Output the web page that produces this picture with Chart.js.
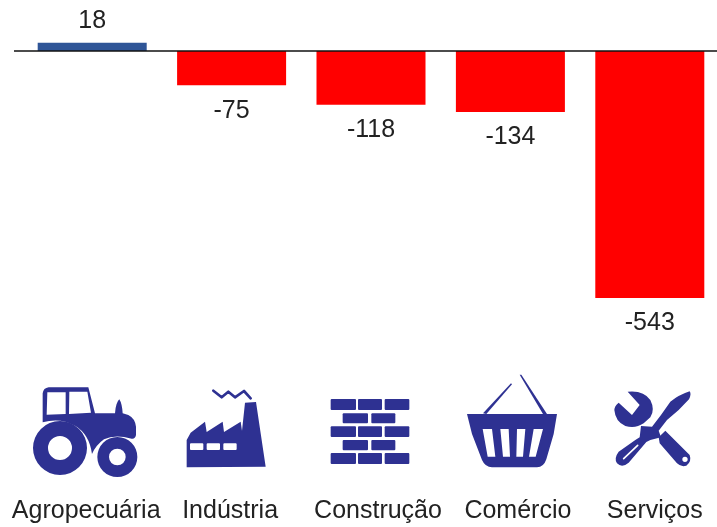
<!DOCTYPE html>
<html lang="pt">
<head>
<meta charset="utf-8">
<title>Saldo por setor</title>
<script src="https://cdn.jsdelivr.net/npm/chart.js@4"></script>
<style>
  html, body { margin: 0; padding: 0; background: #fff; overflow: hidden; }
  #wrap { width: 717px; height: 527px; overflow: hidden; }
  canvas { display: block; }
</style>
</head>
<body>
<div id="wrap"><canvas id="myChart" width="725" height="527"></canvas></div>
<script>
const labelSET = ['Agropecuária', 'Indústria', 'Construção', 'Comércio', 'Serviços'];
const valueSET = [18, -75, -118, -134, -543];

const BLUE = '#2F5597';
const RED = '#FF0000';
const NAVY = '#2E3192';
const TEXT = '#222222';
const FONT = '25px "Liberation Sans", Arial, sans-serif';

// the sector names do not sit exactly under the bars in the original
const labelShift = [-6, -1.5, 7, 7.5, 5];

//------------------------------Icons, traced in 3x crop coordinates-----------------

function polygon(pts) {
    return 'M' + pts.map(p => p.join(' ')).join('L') + 'Z';
}

function circle(cx, cy, r) {
    return `M${cx - r} ${cy}a${r} ${r} 0 1 0 ${2 * r} 0a${r} ${r} 0 1 0 ${-2 * r} 0Z`;
}

function roundRect(x, y, w, h, r) {
    return `M${x + r} ${y}h${w - 2 * r}q${r} 0 ${r} ${r}v${h - 2 * r}q0 ${r} ${-r} ${r}h${-(w - 2 * r)}q${-r} 0 ${-r} ${-r}v${-(h - 2 * r)}q0 ${-r} ${r} ${-r}Z`;
}

function drawTractor(ctx) {
    ctx.fillStyle = NAVY;
    const body = 'M128 187L128 100Q130 84 146 82L265 82L285 160L345 160Q347 128 358 118Q366 130 368 160L385 165Q405 175 408 200L408 225Q405 238 395 236Q345 222 312 238Q288 255 276 282Q268 222 225 197Q180 172 128 187Z';
    ctx.fill(new Path2D(body + polygon([[142, 97], [197, 97], [197, 162], [140, 164]]) + polygon([[208, 95], [262, 95], [273, 158], [207, 162]])), 'evenodd');
    ctx.fill(new Path2D(circle(180, 264, 81) + circle(180, 264, 36)), 'evenodd');
    ctx.fill(new Path2D(circle(352, 291, 60) + circle(352, 291, 25)), 'evenodd');
}

function drawFactory(ctx) {
    ctx.fillStyle = NAVY;
    const outline = polygon([[560, 322], [560, 240], [572, 218], [615, 185], [620, 216], [668, 185], [672, 216], [722, 185], [726, 212], [735, 128], [768, 126], [797, 320]]);
    ctx.fill(new Path2D(outline + roundRect(570, 250, 40, 20, 3) + roundRect(620, 250, 40, 20, 3) + roundRect(670, 250, 40, 20, 3)), 'evenodd');
    ctx.strokeStyle = NAVY;
    ctx.lineWidth = 8;
    ctx.lineJoin = 'round';
    ctx.lineCap = 'round';
    ctx.stroke(new Path2D('M640 92L665 112L685 95L705 112L732 93L752 115'));
}

function drawBricks(ctx) {
    ctx.fillStyle = NAVY;
    const rows = [
        [117, 33, [[-79, -3], [3, 75], [83, 157]]],
        [160, 30, [[-43, 33], [43, 115]]],
        [199, 32, [[-79, -3], [3, 75], [83, 157]]],
        [240, 31, [[-43, 33], [43, 115]]],
        [279, 33, [[-79, -3], [3, 75], [83, 157]]]
    ];
    rows.forEach(([y, h, bricks]) => {
        bricks.forEach(([x0, x1]) => ctx.fill(new Path2D(roundRect(x0, y, x1 - x0, h, 3))));
    });
}

function drawBasket(ctx) {
    ctx.fillStyle = NAVY;
    const body = 'M330 162L600 162L590 222L568 298Q560 322 540 322L405 322Q385 322 375 300L345 222Z';
    const holes = polygon([[377, 207], [405, 207], [415, 290], [392, 290]])
        + polygon([[430, 207], [455, 207], [459, 290], [438, 290]])
        + polygon([[480, 207], [505, 207], [498, 290], [478, 290]])
        + polygon([[530, 207], [558, 207], [536, 290], [516, 290]]);
    ctx.fill(new Path2D(body + holes), 'evenodd');
    ctx.fill(new Path2D(polygon([[378, 160], [462, 70], [465, 73], [388, 162]])));
    ctx.fill(new Path2D(polygon([[488, 44], [493, 44], [570, 162], [558, 162]])));
}

function drawTools(ctx) {
    ctx.fillStyle = NAVY;
    // wrench
    ctx.fill(new Path2D('M785 128L825 165L848 135L812 95Q860 90 880 120Q895 150 880 172L860 190Q835 207 805 198Q775 185 772 150Q772 138 785 128Z'));
    ctx.fill(new Path2D('M925 212L998 285Q1005 305 988 317Q972 322 960 310L908 250L905 232Z' + circle(984, 298, 8)), 'evenodd');
    // screwdriver
    ctx.fill(new Path2D('M998 94Q1004 102 996 118L965 150L930 180L905 212L912 232L880 240L868 246L815 308Q795 325 780 310Q770 295 785 275L835 240L848 232L852 198L885 200L912 165L940 125Q965 105 998 94Z'));
    ctx.strokeStyle = '#fff';
    ctx.lineWidth = 5;
    ctx.lineCap = 'round';
    ctx.stroke(new Path2D('M800 296L842 256'));
}

// icon painter and the page position of its crop origin
const icons = [
    [drawTractor, 0, 360],
    [drawFactory, 0, 360],
    [drawBricks, 357, 360],
    [drawBasket, 357, 360],
    [drawTools, 357, 360]
];

//------------------------------Plugin, zero line, value labels, sectors-------------

const decorSET = {
    id: 'decorSET',
    afterDatasetsDraw(chart) {
        const ctx = chart.ctx;
        const x = chart.scales.x;
        const y = chart.scales.y;
        const zero = y.getPixelForValue(0);

        ctx.save();
        ctx.strokeStyle = '#111';
        ctx.lineWidth = 1.4;
        ctx.beginPath();
        ctx.moveTo(14, zero);
        ctx.lineTo(717, zero);
        ctx.stroke();

        ctx.font = FONT;
        ctx.fillStyle = TEXT;
        ctx.textAlign = 'center';
        ctx.textBaseline = 'middle';
        chart.getDatasetMeta(0).data.forEach((bar, i) => {
            const v = valueSET[i];
            ctx.fillText(String(v), bar.x, bar.y + (v < 0 ? 25.5 : -22));
        });

        labelSET.forEach((name, i) => {
            ctx.fillText(name, x.getPixelForValue(i) + labelShift[i], 511);
        });
        ctx.restore();

        icons.forEach(([paint, ox, oy]) => {
            ctx.save();
            ctx.translate(ox, oy);
            ctx.scale(1 / 3, 1 / 3);
            paint(ctx);
            ctx.restore();
        });
    }
};

//------------------------------Chart------------------------------------------------

const dataSET = {
    labels: labelSET,
    datasets: [{
        data: valueSET,
        backgroundColor: valueSET.map(v => v < 0 ? RED : BLUE),
        borderWidth: 0,
        categoryPercentage: 1,
        barPercentage: 0.782
    }]
};

const configSET = {
    type: 'bar',
    data: dataSET,
    options: {
        responsive: false,
        animation: false,
        layout: { padding: { left: 22.5, right: 5.5, top: 5.5, bottom: 203 } },
        plugins: {
            legend: { display: false },
            tooltip: { enabled: false }
        },
        scales: {
            x: { display: false },
            y: { display: false, min: -600, max: 100 }
        }
    },
    plugins: [decorSET]
};

var chartSET = new Chart(document.getElementById('myChart'), configSET);
</script>
</body>
</html>
